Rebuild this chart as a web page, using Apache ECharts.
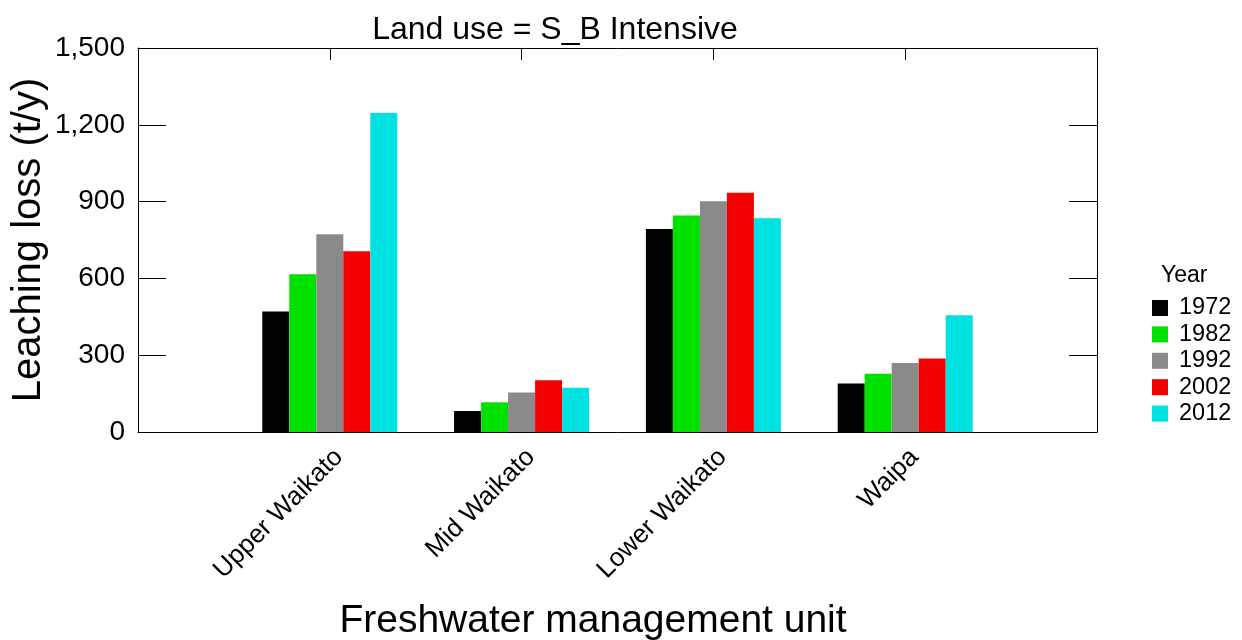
<!DOCTYPE html>
<html>
<head>
<meta charset="utf-8">
<script src="https://cdn.jsdelivr.net/npm/echarts@6/dist/echarts.min.js"></script>
<style>
html,body{margin:0;padding:0;background:#fff;}
#chart{width:1242px;height:640px;}
</style>
</head>
<body>
<div id="chart"></div>
<script>
const categories = ['Upper Waikato', 'Mid Waikato', 'Lower Waikato', 'Waipa'];
const years = ['1972', '1982', '1992', '2002', '2012'];
const v1972 = [471, 82, 793, 189];
const v1982 = [616, 116, 846, 228];
const v1992 = [772, 154, 901, 270];
const v2002 = [706, 202, 935, 287];
const v2012 = [1246, 173, 835, 456];
const yTicks = [0, 300, 600, 900, 1200, 1500];
const colors = ['#000000', '#00E100', '#8A8A8A', '#F20000', '#00E1E1'];

const FONT = 'Liberation Sans, Arial, sans-serif';
const seriesValues = [v1972, v1982, v1992, v2002, v2012];
const axisCats = [''].concat(categories, ['']);

const chart = echarts.init(document.getElementById('chart'), null, {renderer: 'canvas'});
const option = {
  animation: false,
  backgroundColor: '#ffffff',
  textStyle: {fontFamily: FONT},
  title: [
    {text: 'Land use = S_B Intensive', left: 550, top: 9, textAlign: 'center',
     textStyle: {fontFamily: FONT, fontSize: 32, fontWeight: 'normal', color: '#000'}},
    {text: 'Freshwater management unit', left: 588, top: 597, textAlign: 'center',
     textStyle: {fontFamily: FONT, fontSize: 39, fontWeight: 'normal', color: '#000'}},
    {text: 'Year', left: 1161, top: 264, padding: 0,
     textStyle: {fontFamily: FONT, fontSize: 23, fontWeight: 'normal', color: '#000'}}
  ],
  graphic: [
    {type: 'text', x: 29, y: 240, rotation: Math.PI / 2,
     style: {text: 'Leaching loss (t/y)', font: '40px ' + FONT, fill: '#000',
             textAlign: 'center', textVerticalAlign: 'middle'}}
  ],
  legend: {
    orient: 'vertical', left: 1152, top: 296, padding: 0,
    itemWidth: 16, itemHeight: 16, itemGap: 2.4, icon: 'rect',
    data: years,
    textStyle: {fontFamily: FONT, fontSize: 23.5, color: '#000', padding: [0, 0, 0, 6]}
  },
  grid: {left: 138, right: 145, top: 48, bottom: 208, containLabel: false},
  xAxis: [
    {type: 'category', data: axisCats, boundaryGap: false, position: 'bottom',
     axisLine: {show: true, onZero: false, lineStyle: {color: '#000', width: 1}},
     axisTick: {show: false},
     axisLabel: {rotate: 45, fontSize: 26, color: '#000', fontFamily: FONT, margin: 12,
                 verticalAlign: 'top', interval: 0},
     splitLine: {show: false}},
    {type: 'category', data: axisCats, boundaryGap: false, position: 'top',
     axisLine: {show: true, onZero: false, lineStyle: {color: '#000', width: 1}},
     axisTick: {show: true, inside: true, length: 12, interval: 0, lineStyle: {color: '#000'}},
     axisLabel: {show: false}, splitLine: {show: false}}
  ],
  yAxis: [
    {type: 'value', min: yTicks[0], max: yTicks[yTicks.length - 1], interval: yTicks[1] - yTicks[0], position: 'left',
     axisLine: {show: true, onZero: false, lineStyle: {color: '#000', width: 1}},
     axisTick: {show: true, inside: true, length: 28, lineStyle: {color: '#000'}},
     axisLabel: {fontSize: 28, color: '#000', fontFamily: FONT, margin: 13,
                 formatter: v => v.toLocaleString('en-US')},
     splitLine: {show: false}},
    {type: 'value', min: yTicks[0], max: yTicks[yTicks.length - 1], interval: yTicks[1] - yTicks[0], position: 'right',
     axisLine: {show: true, onZero: false, lineStyle: {color: '#000', width: 1}},
     axisTick: {show: true, inside: true, length: 28, lineStyle: {color: '#000'}},
     axisLabel: {show: false}, splitLine: {show: false}}
  ],
  series: years.map((y, i) => ({
    name: y, type: 'bar', xAxisIndex: 0, yAxisIndex: 0,
    barWidth: 27, barGap: '0%',
    itemStyle: {color: colors[i]},
    data: ['-'].concat(seriesValues[i], ['-'])
  }))
};
chart.setOption(option);
</script>
</body>
</html>
